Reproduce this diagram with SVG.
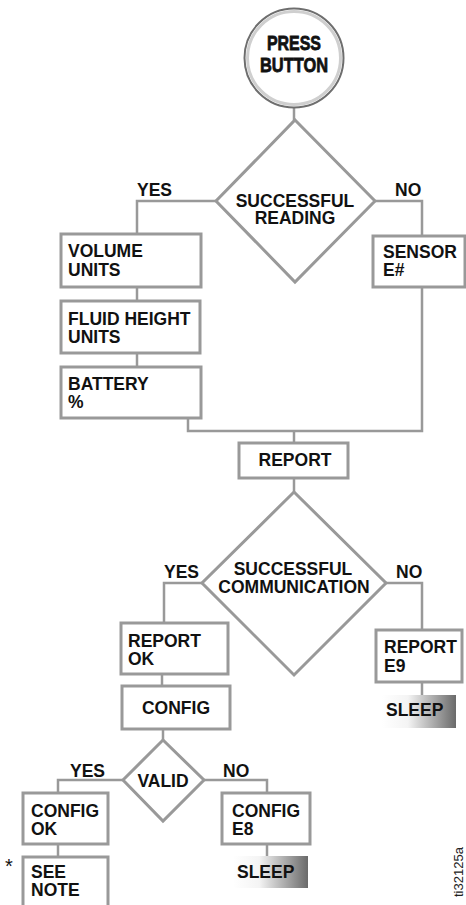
<svg xmlns="http://www.w3.org/2000/svg" width="466" height="905" viewBox="0 0 466 905">
<defs>
<linearGradient id="sleepGrad" x1="0" y1="0" x2="1" y2="0">
<stop offset="0" stop-color="#ffffff"/>
<stop offset="0.35" stop-color="#f4f4f4"/>
<stop offset="1" stop-color="#6a6a6a"/>
</linearGradient>
<style>
.box{fill:#fff;stroke:#999;stroke-width:3}
.dia{fill:#fff;stroke:#999;stroke-width:3}
.ln{fill:none;stroke:#999;stroke-width:2.5}
.t{font-family:"Liberation Sans",Arial,sans-serif;font-weight:bold;font-size:17.5px;fill:#111}
.c{text-anchor:middle}
.cond{font-family:"Liberation Sans",Arial,sans-serif;font-weight:bold;font-size:21px;fill:#111;stroke:#111;stroke-width:0.8;text-anchor:middle}
</style>
</defs>
<rect width="466" height="905" fill="#fff"/>
<g id="connectors">
<path class="ln" d="M294,108 V120"/>
<path class="ln" d="M216,201 H137 V234"/>
<path class="ln" d="M375,201 H422 V236"/>
<path class="ln" d="M137,287 V301"/>
<path class="ln" d="M137,353 V367"/>
<path class="ln" d="M188,418 V431 H422 V287"/>
<path class="ln" d="M294,431 V443"/>
<path class="ln" d="M294,478 V492"/>
<path class="ln" d="M202,583 H164 V623"/>
<path class="ln" d="M386,583 H422 V630"/>
<path class="ln" d="M422,682 V695"/>
<path class="ln" d="M162,674 V686"/>
<path class="ln" d="M163,729 V740"/>
<path class="ln" d="M123,780 H58 V793"/>
<path class="ln" d="M204,780 H267 V793"/>
<path class="ln" d="M58,844 V857"/>
<path class="ln" d="M267,844 V856"/>
</g>
<g id="press-button">
<circle cx="294" cy="58" r="49.5" fill="#fff" stroke="#6e6e6e" stroke-width="2"/>
<circle cx="294" cy="58" r="46.5" fill="none" stroke="#cfcfcf" stroke-width="3"/>
<text class="cond" x="294" y="50" textLength="54" lengthAdjust="spacingAndGlyphs">PRESS</text>
<text class="cond" x="294" y="72" textLength="68" lengthAdjust="spacingAndGlyphs">BUTTON</text>
</g>
<g id="successful-reading">
<polygon class="dia" points="295,120 375,201 295,282 216,201"/>
<text class="t c" x="295" y="207">SUCCESSFUL</text>
<text class="t c" x="295" y="224">READING</text>
<text class="t" x="137" y="196">YES</text>
<text class="t" x="395" y="196">NO</text>
</g>
<g id="volume-units">
<rect class="box" x="61" y="234" width="140" height="53"/>
<text class="t" x="68" y="257">VOLUME</text>
<text class="t" x="68" y="276">UNITS</text>
</g>
<g id="fluid-height-units">
<rect class="box" x="61" y="301" width="139" height="52"/>
<text class="t" x="68" y="325">FLUID HEIGHT</text>
<text class="t" x="68" y="343">UNITS</text>
</g>
<g id="battery">
<rect class="box" x="61" y="367" width="140" height="51"/>
<text class="t" x="68" y="390">BATTERY</text>
<text class="t" x="68" y="408">%</text>
</g>
<g id="sensor-e">
<rect class="box" x="373" y="236" width="92" height="51"/>
<text class="t" x="383" y="258">SENSOR</text>
<text class="t" x="383" y="276">E#</text>
</g>
<g id="report">
<rect class="box" x="239" y="443" width="109" height="35"/>
<text class="t c" x="295" y="466">REPORT</text>
</g>
<g id="successful-communication">
<polygon class="dia" points="294,492 386,583 294,675 202,583"/>
<text class="t c" x="293" y="575">SUCCESSFUL</text>
<text class="t c" x="294" y="593">COMMUNICATION</text>
<text class="t" x="164" y="578">YES</text>
<text class="t" x="396" y="578">NO</text>
</g>
<g id="report-ok">
<rect class="box" x="121" y="623" width="107" height="51"/>
<text class="t" x="128" y="647">REPORT</text>
<text class="t" x="128" y="665">OK</text>
</g>
<g id="report-e9">
<rect class="box" x="376" y="630" width="86" height="52"/>
<text class="t" x="384" y="653">REPORT</text>
<text class="t" x="384" y="672">E9</text>
</g>
<g id="sleep-1">
<rect x="382" y="695" width="74" height="33" fill="url(#sleepGrad)"/>
<text class="t" x="386" y="716">SLEEP</text>
</g>
<g id="config">
<rect class="box" x="122" y="686" width="108" height="43"/>
<text class="t c" x="176" y="714">CONFIG</text>
</g>
<g id="valid">
<polygon class="dia" points="163,740 204,780 163,821 123,780"/>
<text class="t c" x="163" y="787">VALID</text>
<text class="t" x="70" y="777">YES</text>
<text class="t" x="223" y="777">NO</text>
</g>
<g id="config-ok">
<rect class="box" x="23" y="793" width="85" height="51"/>
<text class="t" x="31" y="817">CONFIG</text>
<text class="t" x="31" y="835">OK</text>
</g>
<g id="config-e8">
<rect class="box" x="222" y="793" width="88" height="51"/>
<text class="t" x="232" y="817">CONFIG</text>
<text class="t" x="232" y="835">E8</text>
</g>
<g id="see-note">
<rect class="box" x="23" y="857" width="85" height="60"/>
<text x="9" y="873" font-family="Liberation Sans, Arial, sans-serif" font-size="20" fill="#111" text-anchor="middle">*</text>
<text class="t" x="31" y="878">SEE</text>
<text class="t" x="31" y="896">NOTE</text>
</g>
<g id="sleep-2">
<rect x="233" y="856" width="75" height="32" fill="url(#sleepGrad)"/>
<text class="t" x="237" y="878">SLEEP</text>
</g>
<text x="0" y="0" transform="translate(463,897) rotate(-90)" font-family="Liberation Sans, Arial, sans-serif" font-size="13" fill="#222">ti32125a</text>
</svg>
